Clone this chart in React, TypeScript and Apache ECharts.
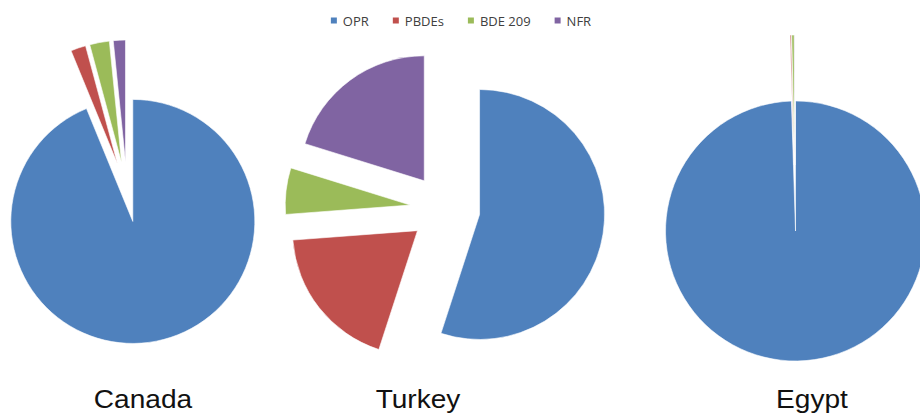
import React, { useEffect, useRef } from "react";
import * as echarts from "echarts";

const categories = ["OPR", "PBDEs", "BDE 209", "NFR"];
const colors = ["#4F81BD", "#C0504D", "#9BBB59", "#8064A2"];
const countries = ["Canada", "Turkey", "Egypt"];
const canadaValues = [93.8, 2.0, 2.6, 1.6];
const turkeyValues = [55.0, 18.8, 6.0, 20.2];
const egyptValues = [99.5, 0.15, 0.3, 0.05];

export default function App() {
  const ref = useRef<HTMLDivElement>(null);
  useEffect(() => {
    document.body.style.margin = "0";
    const chart = echarts.init(ref.current!, undefined, { renderer: "svg" });
    const mk = (
      name: string,
      values: number[],
      center: [number, number],
      radius: number,
      offset: number
    ) => ({
      type: "pie",
      name,
      center,
      radius: [0, radius],
      startAngle: 90,
      clockwise: true,
      selectedMode: "multiple",
      selectedOffset: offset,
      avoidLabelOverlap: false,
      label: { show: false },
      labelLine: { show: false },
      emphasis: { disabled: true },
      minAngle: 0,
      itemStyle: { borderColor: "#fff", borderWidth: 0.6 },
      data: categories.map((c, i) => ({
        name: c,
        value: values[i],
        selected: true,
        itemStyle: { color: colors[i] },
      })),
    });
    const labelX = [143, 418, 812];
    chart.setOption({
      animation: false,
      backgroundColor: "#fff",
      legend: {
        top: 9,
        left: "center",
        itemWidth: 8,
        itemHeight: 8,
        itemGap: 22,
        icon: "rect",
        data: categories,
        textStyle: { fontSize: 13, color: "#404040", fontFamily: "Open Sans" },
      },
      graphic: countries.map((c, i) => ({
        type: "text",
        x: labelX[i],
        y: 386,
        scaleX: 1.08,
        style: {
          text: c,
          fill: "#111",
          font: "26px 'Liberation Sans', Arial, sans-serif",
          textAlign: "center",
        },
      })),
      series: [
        mk("Canada", canadaValues, [127, 192], 122, 30),
        mk("Turkey", turkeyValues, [445, 209], 125, 35),
        mk("Egypt", egyptValues, [795, 198], 130, 33),
      ],
    });
    return () => chart.dispose();
  }, []);
  return <div ref={ref} style={{ width: 920, height: 416 }} />;
}
